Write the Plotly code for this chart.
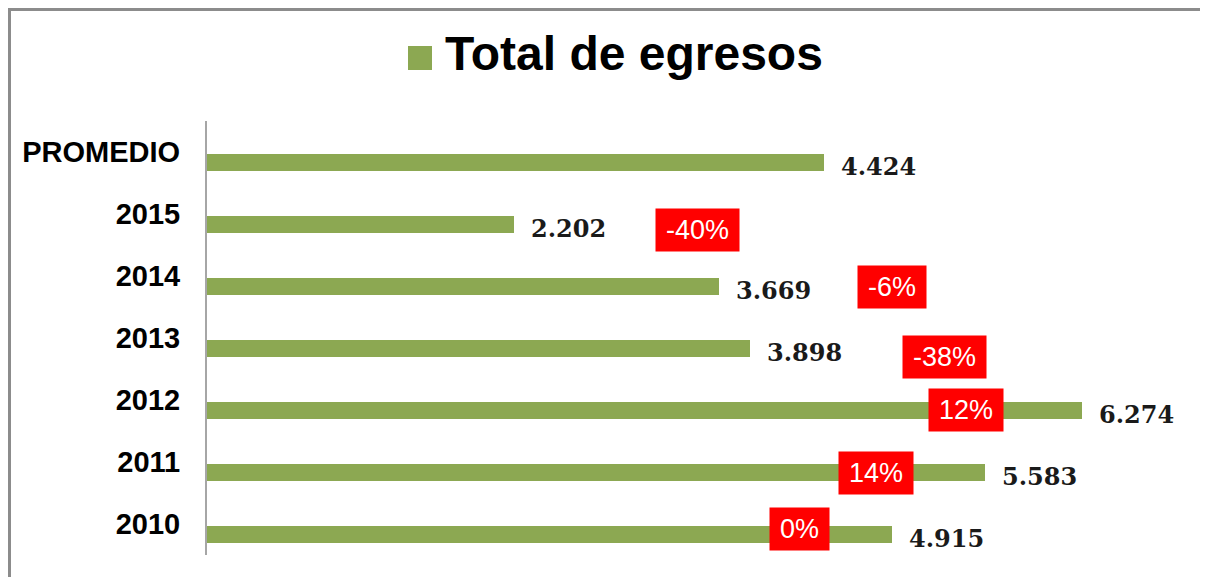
import plotly.graph_objects as go

# ---- data ----
categories = ["2010", "2011", "2012", "2013", "2014", "2015", "PROMEDIO"]
egresos = [4915, 5583, 6274, 3898, 3669, 2202, 4424]
variacion_labels = ["0%", "14%", "12%", "-38%", "-6%", "-40%"]
variacion_cats = ["2010", "2011", "2012", "2013", "2014", "2015"]

# ---- layout constants for manually placed labels (as in the source) ----
var_label_x = [4253, 4798, 5444, 5286, 4913, 3521]
var_label_yshift = [-5, -11, -10, -19, -11, -16]

BAR_COLOR = "#8CA852"
OFF = 8  # page body margin
W, H = 1208 - OFF, 577 - OFF
ML, MR, MT, MB = 207 - OFF, 25, 121 - OFF, 22

fig = go.Figure()
fig.add_trace(go.Bar(
    y=categories, x=egresos, orientation="h",
    marker=dict(color=BAR_COLOR, line=dict(width=0)),
    width=0.274, offset=-0.308,
    hoverinfo="x+y", showlegend=False,
))

def fmt(v):
    return f"{v:,}".replace(",", ".")

def cat_idx(c):
    return categories.index(c)

annotations = []
for c, v in zip(categories, egresos):
    annotations.append(dict(
        x=v, y=cat_idx(c), xref="x", yref="y", text=fmt(v), showarrow=False,
        xanchor="left", yanchor="middle", xshift=15, yshift=-14,
        font=dict(family="DejaVu Serif", size=24, color="#1a1a1a", weight="bold"),
    ))

def arial_w(s, size):
    wmap = {"-": 0.333, "%": 0.889}
    return sum(wmap.get(ch, 0.556) for ch in s) * size

for c, t, xv, ys in zip(variacion_cats, variacion_labels, var_label_x, var_label_yshift):
    annotations.append(dict(
        x=xv, y=cat_idx(c), xref="x", yref="y", text=t, showarrow=False,
        xanchor="center", yanchor="middle", yshift=ys,
        font=dict(family="Liberation Sans, Arial", size=27, color="white"),
        bgcolor="#FF0000", borderpad=4, width=arial_w(t, 27) + 12, height=34,
    ))

plot_w = W - ML - MR
plot_h = H - MT - MB

def px_x(p):  # page pixel -> paper
    return (p - OFF - ML) / plot_w

def px_y(p):
    return (H - MB - (p - OFF)) / plot_h

# title
annotations.append(dict(
    x=px_x(634), y=px_y(54), xref="paper", yref="paper",
    text="<b>Total de egresos</b>", showarrow=False,
    xanchor="center", yanchor="middle",
    font=dict(family="Liberation Sans, Arial", size=48, color="black"),
))

shapes = [
    # legend square
    dict(type="rect", xref="paper", yref="paper",
         x0=px_x(408), x1=px_x(432), y0=px_y(70), y1=px_y(46),
         fillcolor=BAR_COLOR, line=dict(width=0)),
    # chart frame
    dict(type="rect", xref="paper", yref="paper",
         x0=px_x(9.5), x1=px_x(1230), y0=px_y(600), y1=px_y(9.5),
         fillcolor="rgba(0,0,0,0)", line=dict(color="#8c8c8c", width=3)),
]

fig.update_layout(
    width=W, height=H,
    margin=dict(l=ML, r=MR, t=MT, b=MB, pad=0),
    paper_bgcolor="white", plot_bgcolor="white",
    xaxis=dict(range=[0, 7000], visible=False, fixedrange=True),
    yaxis=dict(
        type="category", categoryorder="array", categoryarray=categories,
        range=[-0.5, 6.5], showline=True, linecolor="#a6a6a6", linewidth=2,
        showgrid=False, zeroline=False, ticks="", ticklabelstandoff=19,
        tickfont=dict(family="Liberation Sans, Arial", size=29, color="black", weight="bold"),
    ),
    annotations=annotations, shapes=shapes,
    bargap=0,
)

fig.write_html("out.html")
